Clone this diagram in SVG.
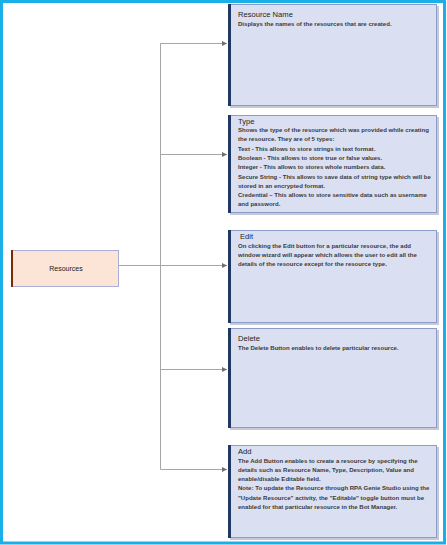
<svg xmlns="http://www.w3.org/2000/svg" width="447" height="545" viewBox="0 0 447 545">
<style>
.box{fill:#DAE0F2;stroke:#8C9CC8;stroke-width:1}
.shadow{fill:#C6CAD6}
.stripe{fill:#1F3864}
.t{font-family:"Liberation Sans",Arial,sans-serif;font-weight:bold;fill:#3A3A3A}
.h{font-size:7.6px;font-weight:normal;fill:#1E1E1E}
.d{font-size:6.05px}
.con{stroke:#A6A6A6;stroke-width:1;fill:none}
</style>
<defs>
<marker id="ah" markerWidth="6" markerHeight="6" refX="5" refY="3" orient="auto" markerUnits="userSpaceOnUse">
<path d="M0,0.5 L5,3 L0,5.5 Z" fill="#707070"/>
</marker>
</defs>
<rect x="0" y="0" width="447" height="545" fill="#FFFFFF"/>
<rect x="1.5" y="1.5" width="443" height="541.5" fill="none" stroke="#1AAFE6" stroke-width="3"/>
<g id="connectors">
<line class="con" x1="119" y1="265.5" x2="227" y2="265.5" marker-end="url(#ah)"/>
<polyline class="con" points="160.5,469 160.5,43.5 227,43.5" marker-end="url(#ah)"/>
<line class="con" x1="160.5" y1="154.5" x2="227" y2="154.5" marker-end="url(#ah)"/>
<line class="con" x1="160.5" y1="369.5" x2="227" y2="369.5" marker-end="url(#ah)"/>
<polyline class="con" points="160.5,469 160.5,469.5 227,469.5" marker-end="url(#ah)"/>
</g>
<g id="resources">
<rect x="11.5" y="250.5" width="107" height="36" fill="#FCE4D6" stroke="#A9B0D8" stroke-width="1"/>
<rect x="11" y="250" width="2" height="37" fill="#7B2C06"/>
<text class="t" x="66" y="271" text-anchor="middle" style="font-size:7px;font-weight:normal;fill:#222">Resources</text>
</g>
<g id="resource-name">
<rect class="shadow" x="230" y="6" width="209" height="102"/>
<rect class="box" x="228.5" y="4.5" width="208" height="101"/>
<rect class="stripe" x="228" y="4" width="3" height="102"/>
<text class="t h" x="238" y="17">Resource Name</text>
<text class="t d" x="238" y="25.5">Displays the names of the resources that are created.</text>
</g>
<g id="type">
<rect class="shadow" x="230" y="117" width="209" height="98"/>
<rect class="box" x="228.5" y="115.5" width="208" height="97"/>
<rect class="stripe" x="228" y="115" width="3" height="98"/>
<text class="t h" x="238" y="124">Type</text>
<text class="t d">
<tspan x="238" y="132">Shows the type of the resource which was provided while creating</tspan>
<tspan x="238" y="141.3">the resource. They are of 5 types:</tspan>
<tspan x="238" y="150.6">Text - This allows to store strings in text format.</tspan>
<tspan x="238" y="159.9">Boolean - This allows to store true or false values.</tspan>
<tspan x="238" y="169.2">Integer - This allows to stores whole numbers data.</tspan>
<tspan x="238" y="178.5">Secure String - This allows to save data of string type which will be</tspan>
<tspan x="238" y="187.8">stored  in an encrypted format.</tspan>
<tspan x="238" y="197.1">Credential – This allows to store sensitive data such as username</tspan>
<tspan x="238" y="206.4">and password.</tspan>
</text>
</g>
<g id="edit">
<rect class="shadow" x="230" y="232" width="209" height="93"/>
<rect class="box" x="228.5" y="230.5" width="208" height="92"/>
<rect class="stripe" x="228" y="230" width="3" height="93"/>
<text class="t h" x="240" y="239">Edit</text>
<text class="t d">
<tspan x="238" y="247.5">On clicking the Edit button  for a particular resource, the add</tspan>
<tspan x="238" y="256.8">window wizard will appear which allows the user to edit all the</tspan>
<tspan x="238" y="266.1">details of the resource except for the resource type.</tspan>
</text>
</g>
<g id="delete">
<rect class="shadow" x="230" y="330" width="209" height="100"/>
<rect class="box" x="228.5" y="328.5" width="208" height="99"/>
<rect class="stripe" x="228" y="328" width="3" height="100"/>
<text class="t h" x="238" y="341">Delete</text>
<text class="t d" x="238" y="349.5">The Delete Button enables to delete particular resource.</text>
</g>
<g id="add">
<rect class="shadow" x="230" y="447" width="209" height="93"/>
<rect class="box" x="228.5" y="445.5" width="208" height="92"/>
<rect class="stripe" x="228" y="445" width="3" height="93"/>
<text class="t h" x="238" y="454">Add</text>
<text class="t d">
<tspan x="238" y="462.5">The Add Button enables to create a resource by specifying the</tspan>
<tspan x="238" y="471.8">details such as Resource Name, Type,  Description, Value and</tspan>
<tspan x="238" y="481.1">enable/disable Editable field.</tspan>
<tspan x="238" y="490.4">Note: To update the Resource through RPA Genie Studio using the</tspan>
<tspan x="238" y="499.7">"Update Resource" activity, the "Editable" toggle button must be</tspan>
<tspan x="238" y="509">enabled for that particular resource in the Bot Manager.</tspan>
</text>
</g>
</svg>
